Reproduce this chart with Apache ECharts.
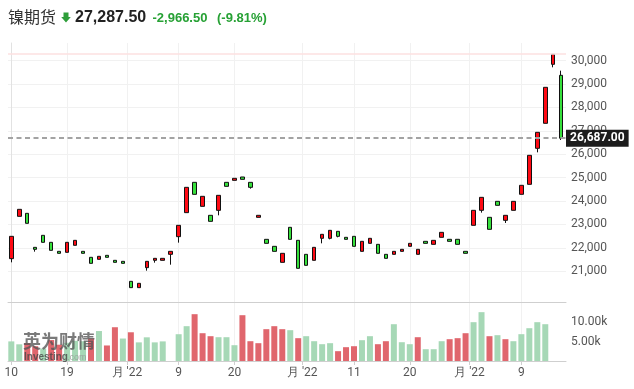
<!DOCTYPE html>
<html><head><meta charset="utf-8">
<script src="https://cdn.jsdelivr.net/npm/echarts@6/dist/echarts.min.js"></script>
<style>html,body{margin:0;padding:0;background:#fff}#c{width:634px;height:389px}</style>
</head><body><div id="c"></div>
<script>
// ---- data ----
const openP = [21540,23349,23477,22024,22537,22238,21853,21810,22110,21853,
  21597,21511,21682,21469,21426,20571,20301,21155,21469,21469,
  21725,22480,23506,24802,23776,23392,23605,24802,24887,25030,
  24802,23306,22366,22067,21383,22879,22323,21725,21469,22409,
  22409,22708,22452,22494,21853,22195,22152,21725,21725,21853,
  22067,21725,22281,22152,22452,22367,22367,21854,22965,23606,
  23307,23990,23178,23606,24290,24717,26255,27324,29845,29375];
const closeP = [22494,23648,23050,21939,22238,21896,21768,22238,22323,21768,
  21340,21640,21597,21383,21340,20301,20486,21426,21554,21554,
  21853,22964,24588,24289,24204,23135,24246,24631,24973,24930,
  24588,23392,22195,21853,21768,22366,21127,21255,22024,22580,
  22751,22494,22366,22067,22281,22409,21768,21554,21853,21939,
  22195,21939,22195,22323,22665,22281,22153,21768,23606,24161,
  22794,23819,23392,23990,24674,25956,26939,28862,30272,26687];
const lowP = [21383,23349,23050,21839,22238,21896,21768,21810,22110,21768,
  21340,21511,21597,21383,21340,20301,20301,21027,21369,21469,
  21283,22224,23506,24289,23776,23135,23392,24631,24887,24930,
  24531,23306,22195,21853,21383,22366,21127,21255,21469,22195,
  22366,22452,22366,22067,21853,22195,21768,21554,21725,21853,
  22067,21725,22195,22152,22452,22281,22153,21768,22965,23506,
  22794,23819,23065,23606,24290,24717,26084,27324,29717,26611];
const highP = [22494,23648,23477,22024,22537,22238,21853,22238,22323,21853,
  21597,21640,21682,21469,21426,20571,20486,21426,21554,21554,
  21853,22964,24588,24802,24204,23392,24246,24802,24973,25030,
  24802,23392,22366,22067,21768,22879,22323,21725,22024,22580,
  22751,22708,22452,22494,22281,22409,22152,21725,21853,21939,
  22195,21939,22281,22323,22665,22367,22367,21854,23606,24161,
  23307,23990,23392,23990,24674,25956,26939,28862,30272,29574];
const volume = [5050,4300,4600,3800,3200,5400,4200,4700,5200,5100,
  5800,7720,4000,8700,5790,7400,4800,6100,4800,5050,
  null,6900,8970,12060,7160,6390,6130,6130,4070,11800,
  5100,4590,8200,8970,8200,7940,5880,6390,5100,4330,
  4590,2530,3560,3810,5360,6390,4330,5100,9480,4840,
  4330,6130,3040,3040,5100,5620,5880,7160,10000,12580,
  6390,6650,5620,5100,6910,8450,10000,9480,null,null];
const volRed = [0,0,1,1,0,1,1,0,0,0,
  1,0,1,1,0,1,0,0,0,0,
  0,0,0,1,1,1,0,0,0,1,
  1,1,1,1,1,0,1,0,0,0,
  0,1,1,1,0,0,1,1,0,0,
  0,1,0,0,0,1,1,1,0,0,
  1,0,1,0,0,0,0,0,0,0];
const xTickPos = [0,7,14.5,21,28,36.5,43,50,57.5,64];
const xTickText = ['10','19',"月 '22",'9','20',"月 '22",'11','20',"月 '22",'9'];
const priceTicks = [21000,22000,23000,24000,25000,26000,27000,28000,29000,30000];
const volTicks = [5000,10000];
const lastPrice = 26687;
const lastPriceText = '26,687.00';
const topRefLine = 30286;
const headName = '镍期货';
const headPrice = '27,287.50';
const headChange = '-2,966.50';
const headPct = '(-9.81%)';

// ---- chart ----
const fmt = v => String(Math.round(v)).replace(/\B(?=(\d{3})+(?!\d))/g, ',');
const candleData = openP.map((o, i) => [i, o, closeP[i], lowP[i], highP[i]]);
const volData = volume.map((v, i) => v == null ? null : {
  value: [i, v], itemStyle: { color: volRed[i] ? '#e0666d' : '#a6d8b6' }
}).filter(Boolean);

function xAxisCfg(gridIndex, showLabels) {
  return {
    type: 'value', gridIndex, min: -0.414, max: 69.6,
    axisLine: { show: true, lineStyle: { color: '#cfcfcf', width: 1 } },
    axisTick: { show: showLabels, customValues: xTickPos, length: 4, lineStyle: { color: '#cfcfcf' } },
    axisLabel: {
      show: showLabels, customValues: xTickPos, margin: 6,
      color: '#555', fontSize: 12, fontFamily: 'Roboto',
      formatter: v => { const i = xTickPos.findIndex(p => Math.abs(p - v) < 1e-6); return i >= 0 ? xTickText[i] : ''; }
    },
    splitLine: { show: true, lineStyle: { color: '#f1f1f1', width: 1 } }
  };
}

const chart = echarts.init(document.getElementById('c'));
chart.setOption({
  animation: false,
  backgroundColor: '#fff',
  grid: [
    { left: 8, right: 68, top: 43, bottom: 87, outerBoundsMode: 'none', containLabel: false },
    { left: 8, right: 68, top: 302, bottom: 28, outerBoundsMode: 'none', containLabel: false }
  ],
  xAxis: [xAxisCfg(0, false), xAxisCfg(1, true)],
  yAxis: [
    {
      type: 'value', gridIndex: 0, position: 'right', min: 19688, max: 30756,
      axisLine: { show: true, lineStyle: { color: '#e2e2e2' } },
      axisTick: { show: false, customValues: priceTicks },
      axisLabel: { customValues: priceTicks, formatter: fmt, color: '#555', fontSize: 12, fontFamily: 'Roboto', margin: 5 },
      splitLine: { show: true, lineStyle: { color: '#f1f1f1' } }
    },
    {
      type: 'value', gridIndex: 1, position: 'right', min: 0, max: 15200,
      axisLine: { show: true, lineStyle: { color: '#e2e2e2' } },
      axisTick: { show: false, customValues: volTicks },
      axisLabel: { customValues: volTicks, formatter: v => (v / 1000).toFixed(2) + 'k', color: '#555', fontSize: 12, fontFamily: 'Roboto', margin: 5 },
      splitLine: { show: false }
    }
  ],
  series: [
    {
      type: 'candlestick', xAxisIndex: 0, yAxisIndex: 0, data: candleData, barWidth: 4,
      itemStyle: { color: '#ff0a14', color0: '#36e03c', borderColor: '#111', borderColor0: '#111', borderWidth: 1 },
      markLine: {
        silent: true, symbol: ['none', 'none'], animation: false,
        data: [
          { yAxis: lastPrice, lineStyle: { type: [5, 3.5], color: '#a3a3a3', width: 2 },
            label: { show: true, position: 'end', distance: 0, formatter: lastPriceText, color: '#fff',
              backgroundColor: '#1c1c1c', padding: [3, 4, 2, 4], fontSize: 12, fontWeight: 'bold', fontFamily: 'Roboto' } },
          { yAxis: topRefLine, lineStyle: { type: 'solid', color: '#fde1e1', width: 1.5 }, label: { show: false } }
        ]
      }
    },
    { type: 'bar', xAxisIndex: 1, yAxisIndex: 1, data: volData, barWidth: 6 }
  ],
  graphic: [
    { type: 'text', x: 8, y: 17, z: 100, style: { text: headName, font: '16px "Noto Sans CJK SC"', fill: '#333', verticalAlign: 'middle' } },
    { type: 'polygon', z: 100, shape: { points: [[63.5,12.5],[68.5,12.5],[68.5,17],[70.8,17],[66,22.6],[61.2,17],[63.5,17]] }, style: { fill: '#2e9e3a' } },
    { type: 'text', x: 75, y: 17.5, z: 100, style: { text: headPrice, font: 'bold 16px "Liberation Sans"', fill: '#222', verticalAlign: 'middle' } },
    { type: 'text', x: 152.5, y: 18, z: 100, style: { text: headChange, font: 'bold 13px "Liberation Sans"', fill: '#27a135', verticalAlign: 'middle' } },
    { type: 'text', x: 217, y: 18, z: 100, style: { text: headPct, font: 'bold 13px "Liberation Sans"', fill: '#27a135', verticalAlign: 'middle' } },
    { type: 'text', x: 23, y: 341, z: 100, style: { text: '英为财情', font: 'bold 18px "Noto Sans CJK SC"', fill: 'rgba(85,85,85,0.78)', verticalAlign: 'middle' } },
    { type: 'text', x: 24, y: 357, z: 100, style: { text: 'Investing', font: 'bold 10px "Liberation Sans"', fill: 'rgba(70,70,70,0.8)', verticalAlign: 'middle' } },
    { type: 'text', x: 67, y: 358, z: 100, style: { text: '.com', font: '9px "Liberation Sans"', fill: 'rgba(150,150,150,0.8)', verticalAlign: 'middle' } }
  ]
});
</script>
</body></html>
